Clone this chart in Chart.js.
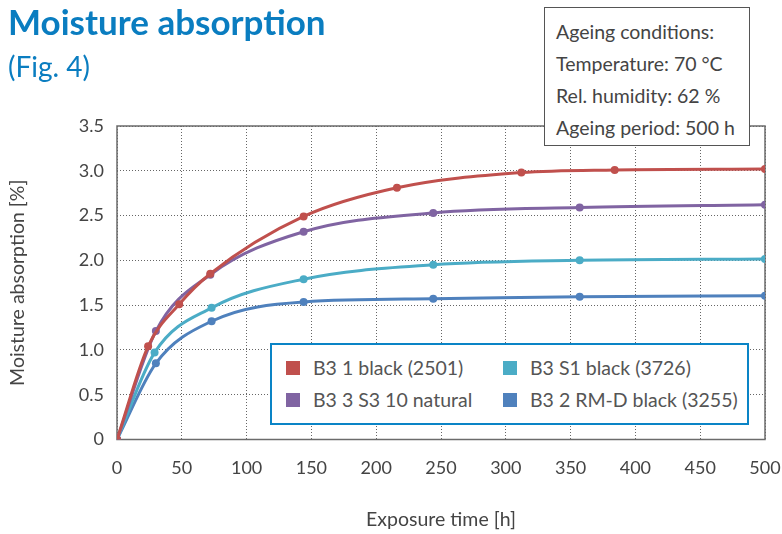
<!DOCTYPE html>
<html>
<head>
<meta charset="utf-8">
<script src="https://cdn.jsdelivr.net/npm/chart.js@4/dist/chart.umd.min.js"></script>
<style>
  html, body { margin: 0; padding: 0; background: #fff; }
  body { width: 782px; height: 534px; position: relative; overflow: hidden; font-family: Lato, "Open Sans", sans-serif; }
  #wrap { position: absolute; left: 0; top: 0; width: 782px; height: 534px; }
  .title { position: absolute; left: 8px; top: 0px; color: #0a7dc0; font-weight: bold; font-size: 35px; }
  .subtitle { position: absolute; left: 8px; top: 49px; color: #0a7dc0; font-size: 28px; }
  .conditions { position: absolute; left: 544px; top: 7px; width: 206px; height: 139px; border: 1px solid #555; background: #fff; box-sizing: border-box; color: #444; font-size: 19.5px; padding: 8px 0 0 11px; line-height: 32px; }
  .legend { position: absolute; left: 270px; top: 343px; width: 479px; height: 82px; border: 2.5px solid #0a84c6; background: #fff; box-sizing: border-box; }
  .legend .item { position: absolute; color: #555; font-size: 19.5px; line-height: 22px; white-space: nowrap; }
  .legend .sw { position: absolute; width: 14px; height: 14px; left: -27px; top: 4px; }
</style>
</head>
<body>
<div id="wrap"><canvas id="chart" width="782" height="534"></canvas></div>
<div class="title">Moisture absorption</div>
<div class="subtitle">(Fig. 4)</div>
<div class="conditions" id="conditions"></div>
<div class="legend" id="legend"></div>
<script>
// exposure hours and moisture uptake [%] per material
const redHours = [0, 24, 48, 72, 144, 216, 312, 384, 500];
const redValues = [0, 1.04, 1.51, 1.85, 2.49, 2.81, 2.98, 3.01, 3.02];

const purpleHours = [0, 30, 72, 144, 244, 357, 500];
const purpleValues = [0, 1.21, 1.84, 2.32, 2.53, 2.59, 2.62];

const cyanHours = [0, 29, 73, 144, 244, 357, 500];
const cyanValues = [0, 0.97, 1.47, 1.79, 1.95, 2.0, 2.015];

const blueHours = [0, 30, 73, 144, 244, 357, 500];
const blueValues = [0, 0.85, 1.32, 1.535, 1.57, 1.594, 1.605];

const seriesNames = ['B3 1 black (2501)', 'B3 3 S3 10 natural', 'B3 S1 black (3726)', 'B3 2 RM-D black (3255)'];
const seriesColors = ['#c0504d', '#8064a2', '#4bacc6', '#4f81bd'];

const conditionLines = ['Ageing conditions:', 'Temperature: 70 °C', 'Rel. humidity: 62 %', 'Ageing period: 500 h'];

const xTicks = [0, 50, 100, 150, 200, 250, 300, 350, 400, 450, 500];
const yTicks = [0, 0.5, 1.0, 1.5, 2.0, 2.5, 3.0, 3.5];

const toPoints = (xs, ys) => xs.map((x, i) => ({ x: x, y: ys[i] }));
const allSeries = [
    toPoints(redHours, redValues),
    toPoints(purpleHours, purpleValues),
    toPoints(cyanHours, cyanValues),
    toPoints(blueHours, blueValues)
];

document.getElementById('conditions').innerHTML = conditionLines.map(l => `<div>${l}</div>`).join('');

// legend in two columns: red / purple on the left, cyan / blue on the right
const legendPos = [[41, 12], [41, 44], [258, 12], [258, 44]];
document.getElementById('legend').innerHTML = seriesNames.map((name, i) =>
    `<div class="item" style="left:${legendPos[i][0]}px;top:${legendPos[i][1]}px">` +
    `<span class="sw" style="background:${seriesColors[i]}"></span>${name}</div>`
).join('');

// solid frame around the plot area
const frame = {
    id: 'frame',
    beforeDatasetsDraw(chart) {
        const { ctx, chartArea: a } = chart;
        ctx.save();
        ctx.strokeStyle = '#6b6b6b';
        ctx.lineWidth = 1.5;
        ctx.strokeRect(a.left, a.top, a.right - a.left, a.bottom - a.top);
        ctx.restore();
    }
};

const tickFont = { family: 'Lato, "Open Sans", sans-serif', size: 18 };
const titleFont = { family: 'Lato, "Open Sans", sans-serif', size: 19.5 };

new Chart(document.getElementById('chart'), {
    type: 'line',
    data: {
        datasets: allSeries.map((pts, i) => ({
            label: seriesNames[i],
            data: pts,
            borderColor: seriesColors[i],
            backgroundColor: seriesColors[i],
            borderWidth: 3,
            pointRadius: 4,
            pointHoverRadius: 4,
            pointBorderWidth: 0,
            cubicInterpolationMode: 'monotone',
            fill: false
        }))
    },
    options: {
        responsive: false,
        animation: false,
        events: [],
        layout: { padding: { left: 0, top: 126, right: 0, bottom: 0 } },
        plugins: { legend: { display: false }, tooltip: { enabled: false } },
        scales: {
            x: {
                type: 'linear',
                min: 0, max: 500,
                afterFit: s => { s.height = 94.5; s.paddingLeft = 0; s.paddingRight = 17; },
                afterBuildTicks: s => { s.ticks = xTicks.map(v => ({ value: v })); },
                grid: { color: '#666', lineWidth: 1, drawTicks: false },
                border: { display: false, dash: [1, 2] },
                ticks: { color: '#444', font: tickFont, padding: 18, maxRotation: 0 },
                title: { display: true, text: 'Exposure time [h]', color: '#444', font: titleFont, padding: { bottom: 3 } }
            },
            y: {
                min: 0, max: 3.5,
                afterFit: s => { s.width = 117; },
                afterBuildTicks: s => { s.ticks = yTicks.map(v => ({ value: v })); },
                grid: { color: '#666', lineWidth: 1, drawTicks: false },
                border: { display: false, dash: [1, 2] },
                ticks: {
                    color: '#444', font: tickFont, padding: 13,
                    callback: v => v === 0 ? '0' : v.toFixed(1)
                },
                title: { display: true, text: 'Moisture absorption [%]', color: '#444', font: titleFont, padding: { top: 6 } }
            }
        }
    },
    plugins: [frame]
});
</script>
</body>
</html>
